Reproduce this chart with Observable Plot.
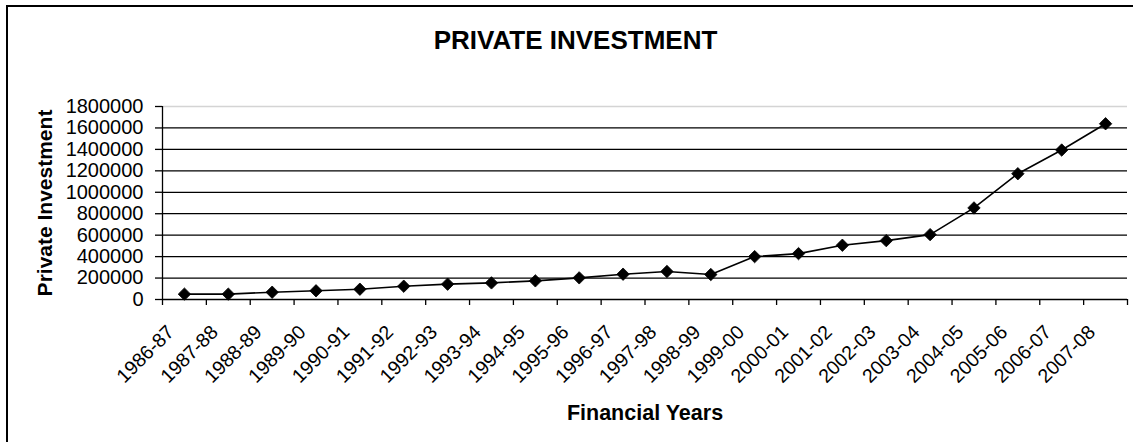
<!DOCTYPE html>
<html>
<head>
<meta charset="utf-8">
<script src="https://cdn.jsdelivr.net/npm/d3@7"></script>
<script src="https://cdn.jsdelivr.net/npm/@observablehq/plot@0.6"></script>
<style>
  html, body { margin: 0; padding: 0; background: #fff; overflow: hidden; }
  #wrap { position: relative; width: 1133px; height: 442px; overflow: hidden; }
  #border { position: absolute; left: 6px; top: 5px; width: 1200px; height: 500px;
            border: 2px solid #000; box-sizing: border-box; pointer-events: none; }
</style>
</head>
<body>
<div id="wrap"><div id="border"></div></div>
<script>
const titleText = "PRIVATE INVESTMENT";
const xLabel = "Financial Years";
const yLabel = "Private Investment";

const years = ["1986-87","1987-88","1988-89","1989-90","1990-91","1991-92","1992-93","1993-94",
  "1994-95","1995-96","1996-97","1997-98","1998-99","1999-00","2000-01","2001-02","2002-03",
  "2003-04","2004-05","2005-06","2006-07","2007-08"];
const investment = [50000, 50000, 68000, 81000, 96000, 124000, 143000, 155000, 174000, 202000,
  236000, 261000, 233000, 400000, 428000, 506000, 549000, 605000, 854000, 1173000, 1394000, 1639000];
const yTicks = [0, 200000, 400000, 600000, 800000, 1000000, 1200000, 1400000, 1600000, 1800000];
const gridValues = [200000, 400000, 600000, 800000, 1000000, 1200000, 1400000, 1600000];
const topValue = [1800000];

const data = years.map((year, i) => ({year, idx: i + 0.5, value: investment[i]}));
const boundaries = d3.range(0, years.length + 1);

const font = "'Liberation Sans', Arial, Helvetica, sans-serif";

const chart = Plot.plot({
  width: 1133,
  height: 442,
  marginLeft: 162,
  marginRight: 6,
  marginTop: 106,
  marginBottom: 143,
  style: {fontFamily: font, color: "#000", background: "transparent", overflow: "visible"},
  x: {type: "linear", domain: [0, years.length], axis: null},
  y: {domain: [0, 1800000], axis: null},
  marks: [
    Plot.ruleY(topValue, {stroke: "#d4d4d4", strokeWidth: 1.5}),
    Plot.ruleY(gridValues, {stroke: "#000", strokeWidth: 1.3}),
    Plot.ruleY([0], {stroke: "#000", strokeWidth: 1.3}),
    Plot.ruleX([0], {stroke: "#000", strokeWidth: 1.3}),
    Plot.axisY({ticks: yTicks, tickSize: 7, tickPadding: 12, tickFormat: d => d3.format("d")(d),
      fontSize: 20, stroke: "#000", strokeWidth: 1.3, label: null}),
    Plot.axisX({ticks: boundaries, tickSize: 6, tickFormat: () => "", stroke: "#000",
      strokeWidth: 1.3, label: null}),
    Plot.text(data, {x: "idx", text: "year", frameAnchor: "bottom", rotate: -45,
      textAnchor: "end", lineAnchor: "top", dx: -19, dy: 24, fontSize: 19.5, fill: "#000"}),
    Plot.line(data, {x: "idx", y: "value", stroke: "#000", strokeWidth: 1.6}),
    Plot.dot(data, {x: "idx", y: "value", symbol: "diamond2", r: 5.6, fill: "#000",
      stroke: "#000", strokeWidth: 0.8}),
    Plot.text([titleText], {frameAnchor: "top-left", dx: 413, dy: -66, textAnchor: "middle",
      lineAnchor: "middle", fontSize: 26, fontWeight: "bold", fill: "#000"}),
    Plot.text([xLabel], {frameAnchor: "bottom", dy: 114, textAnchor: "middle", lineAnchor: "middle",
      fontSize: 21.5, fontWeight: "bold", fill: "#000"}),
    Plot.text([yLabel], {frameAnchor: "left", dx: -117, rotate: -90, textAnchor: "middle",
      lineAnchor: "middle", fontSize: 21, fontWeight: "bold", fill: "#000"})
  ]
});
chart.style.position = "absolute";
chart.style.left = "0px";
chart.style.top = "0px";
document.getElementById("wrap").insertBefore(chart, document.getElementById("border"));
</script>
</body>
</html>
